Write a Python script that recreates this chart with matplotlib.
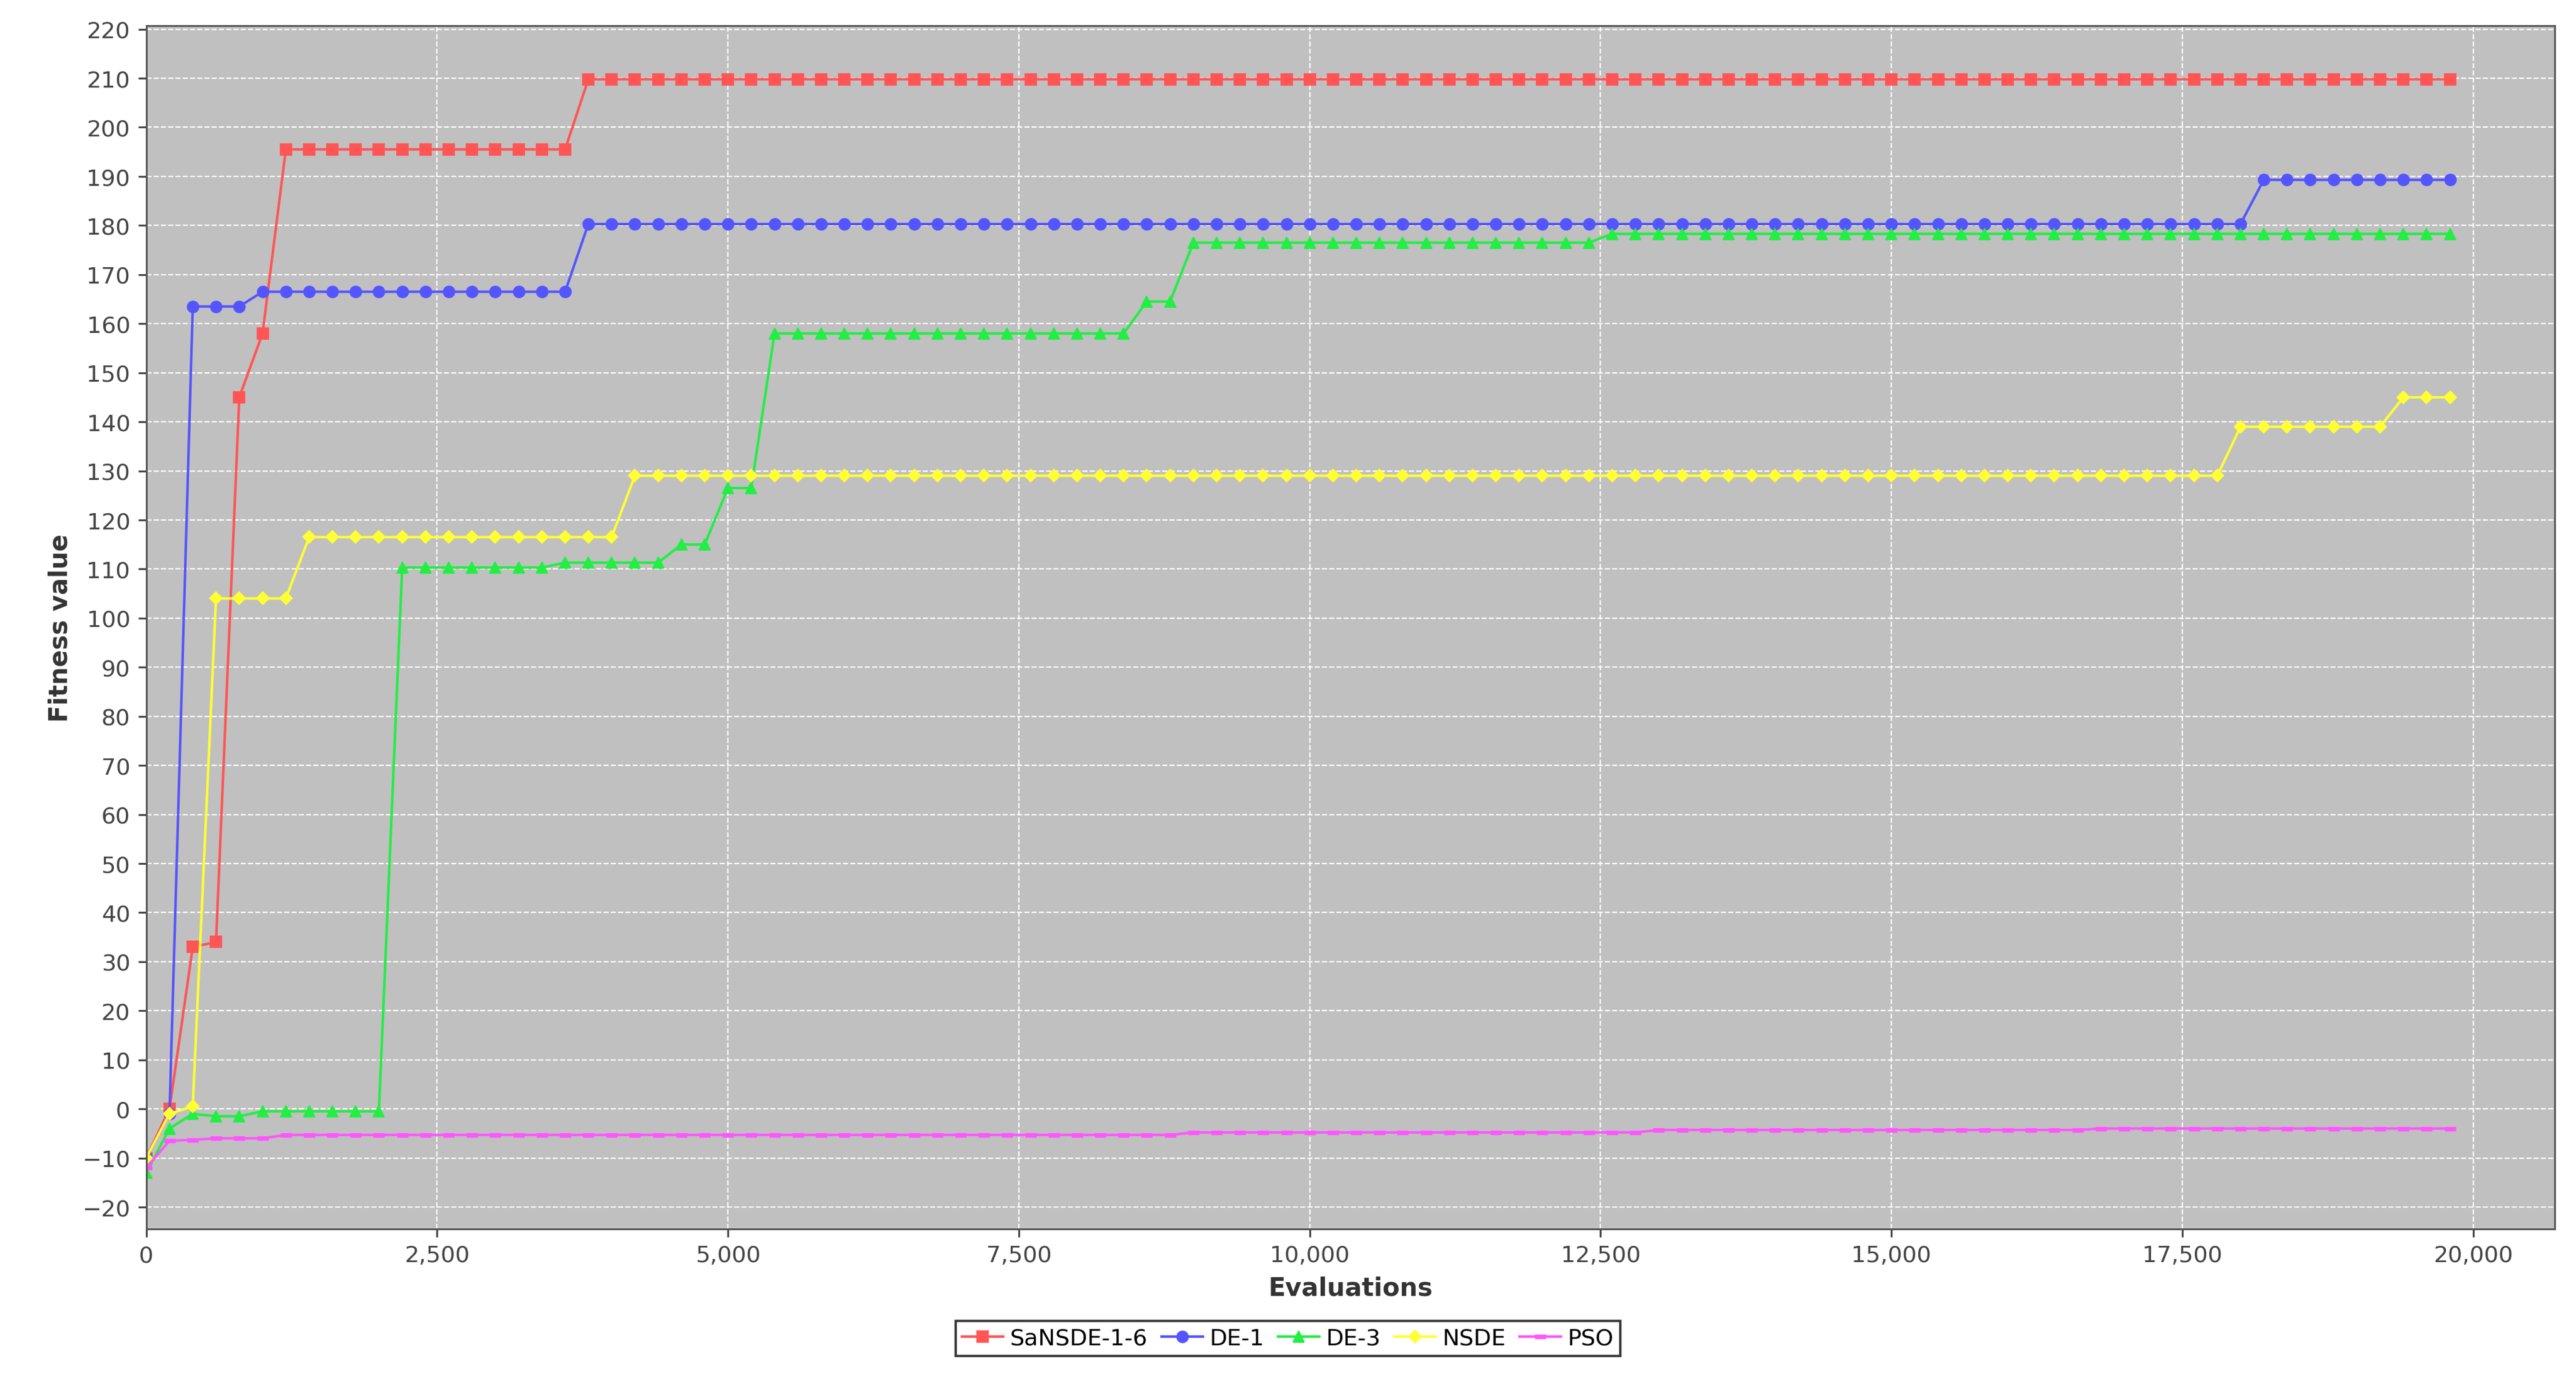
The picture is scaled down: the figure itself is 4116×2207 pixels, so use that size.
import matplotlib
matplotlib.use("Agg")
import matplotlib.pyplot as plt
import numpy as np

evals = list(range(0, 20000, 200))

def runs(pairs):
    out = []
    for v, n in pairs:
        out += [v] * n
    return out

sansde = runs([(-10,1),(0,1),(33,1),(34,1),(145,1),(158,1),(195.5,13),(209.8,81)])
de1 = runs([(-10,1),(-1,1),(163.5,3),(166.5,14),(180.3,72),(189.3,9)])
de3 = runs([(-13,1),(-4,1),(-1,1),(-1.5,2),(-0.5,6),(110.3,7),(111.3,5),(115,2),(126.5,2),(158,16),(164.5,2),(176.5,18),(178.3,37)])
nsde = runs([(-10,1),(-1,1),(0.5,1),(104,4),(116.5,14),(129,69),(139,7),(145,3)])
pso = runs([(-12,1),(-6.5,1),(-6.3,1),(-6,3),(-5.3,39),(-4.8,20),(-4.3,19),(-4,16)])

series = [
    ("SaNSDE-1-6", sansde, "#ff5555", "s"),
    ("DE-1", de1, "#5555ff", "o"),
    ("DE-3", de3, "#22ee44", "^"),
    ("NSDE", nsde, "#ffff33", "D"),
    ("PSO", pso, "#ff55ff", "_"),
]

fig = plt.figure(figsize=(15.68, 8.41), dpi=262.5)
ax = fig.add_axes([89/1568, 1-753/846, (1555-89)/1568, (753-16)/846])
ax.set_facecolor("#c0c0c0")
for name, ys, c, m in series:
    ms = 5 if m != "D" else 4
    ax.plot(evals, ys, color=c, marker=m, markersize=ms, linewidth=1.1, label=name,
            markeredgewidth=2 if m == "_" else 0.5, markeredgecolor=c)
ax.set_xlim(0, 20700)
ax.set_ylim(-24.5, 220.7)
ax.set_xticks(range(0, 20001, 2500))
ax.set_xticklabels([f"{v:,}" for v in range(0, 20001, 2500)])
ax.set_yticks(range(-20, 221, 10))
ax.grid(True, color="white", linestyle="--", linewidth=0.6)
ax.tick_params(labelsize=10, colors="#444444")
for s in ax.spines.values():
    s.set_color("#555555")
ax.set_xlabel("Evaluations", fontsize=11, fontweight="bold", color="#333333")
ax.set_ylabel("Fitness value", fontsize=11, fontweight="bold", color="#333333")
leg = fig.legend(loc="center", bbox_to_anchor=(0.5, 1-820/846), ncol=5, fontsize=10,
                 frameon=True, fancybox=False, edgecolor="black", handlelength=1.8,
                 columnspacing=0.6, handletextpad=0.3, borderpad=0.3)
fig.savefig("out.png", dpi=262.5)
